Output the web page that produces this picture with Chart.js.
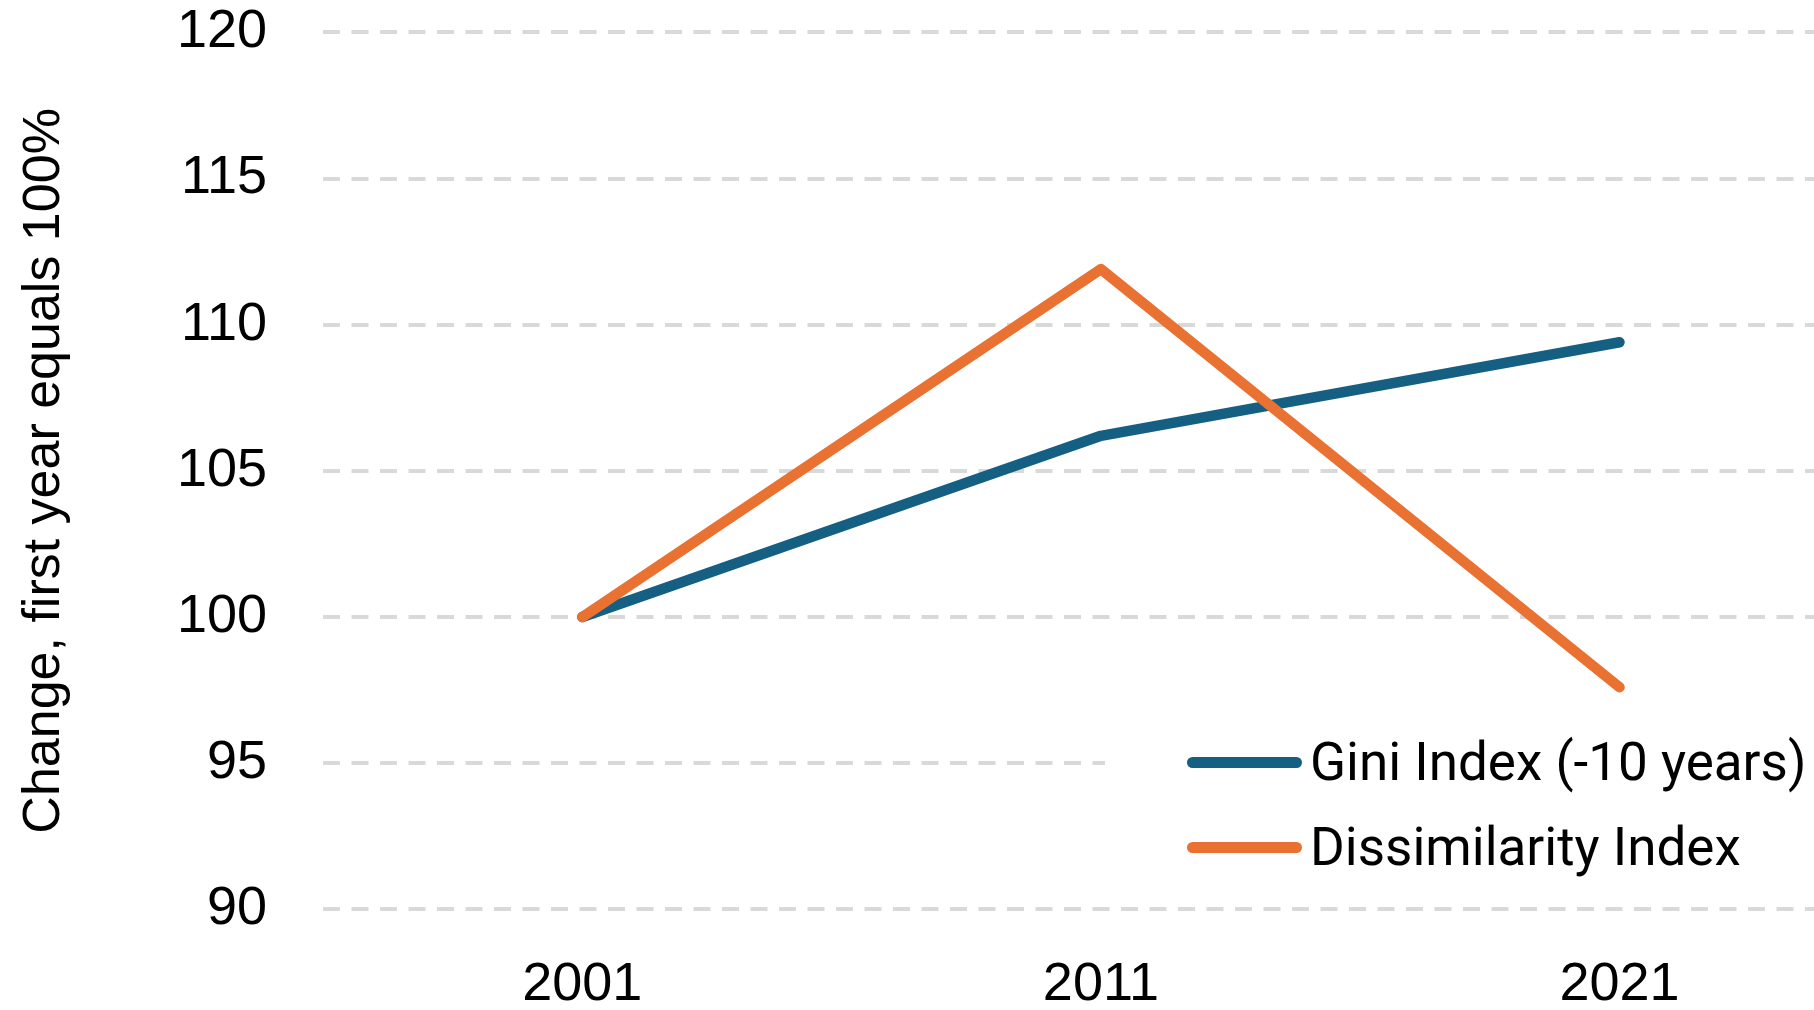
<!DOCTYPE html>
<html>
<head>
<meta charset="utf-8">
<title>Gini and Dissimilarity Index change</title>
<script src="https://cdn.jsdelivr.net/npm/chart.js@4.4.1/dist/chart.umd.min.js"></script>
<style>
  html, body { margin: 0; padding: 0; background: #fff; overflow: hidden; }
  #wrap { position: relative; width: 1814px; height: 1010px; }
  #legend {
    position: absolute; left: 1105px; top: 712px; width: 709px; height: 170px;
    background: #fff; font-family: Roboto, "Noto Sans", sans-serif; font-size: 53px; color: #000;
  }
  #legend .item { position: absolute; left: 82px; height: 60px; display: flex; align-items: center; white-space: nowrap; }
  #legend .swatch { width: 115px; height: 11px; border-radius: 6px; margin-right: 8px; }
</style>
</head>
<body>
<div id="wrap">
  <canvas id="indexChart" width="1814" height="1010"></canvas>
  <div id="legend"></div>
</div>
<script>
// Index values, first year = 100
const years = [2001, 2011, 2021];
const giniValues = [100, 106.2, 109.4];
const dissimilarityValues = [100, 111.9, 97.6];
const yTicks = [90, 95, 100, 105, 110, 115, 120];
const seriesNames = ['Gini Index (-10 years)', 'Dissimilarity Index'];
const seriesColors = ['#156082', '#E97132'];

const axisFont = { family: "'Liberation Sans', Arial, sans-serif", size: 54 };

function toPoints(values) {
    return years.map((yr, i) => ({ x: yr, y: values[i] }));
}

const ctx = document.getElementById('indexChart').getContext('2d');

const chart = new Chart(ctx, {
    type: 'line',
    data: {
        datasets: [
            {
                label: seriesNames[0],
                data: toPoints(giniValues),
                borderColor: seriesColors[0],
                backgroundColor: seriesColors[0],
                borderWidth: 10.5,
                borderCapStyle: 'round',
                borderJoinStyle: 'round',
                pointRadius: 0,
                tension: 0,
                order: 2
            },
            {
                // drawn on top of the Gini line
                label: seriesNames[1],
                data: toPoints(dissimilarityValues),
                borderColor: seriesColors[1],
                backgroundColor: seriesColors[1],
                borderWidth: 10.5,
                borderCapStyle: 'round',
                borderJoinStyle: 'round',
                pointRadius: 0,
                tension: 0,
                order: 1
            }
        ]
    },
    options: {
        responsive: false,
        animation: false,
        devicePixelRatio: 1,
        layout: { padding: 0 },
        plugins: {
            legend: { display: false },
            tooltip: { enabled: false }
        },
        scales: {
            x: {
                type: 'linear',
                min: 1996,
                max: 2024.75,
                afterBuildTicks: scale => { scale.ticks = years.map(v => ({ value: v })); },
                afterFit: scale => { scale.height = 100.6; },
                grid: { display: false, drawTicks: false },
                border: { display: false },
                ticks: {
                    font: axisFont,
                    color: '#000',
                    padding: 43,
                    maxRotation: 0,
                    callback: v => String(v)
                }
            },
            y: {
                min: 90,
                max: 120,
                afterBuildTicks: scale => { scale.ticks = yTicks.map(v => ({ value: v })); },
                afterFit: scale => {
                    scale.width = 323;
                    // only half a label above/below the plot, not the tick padding too
                    scale.paddingTop = 32.4;
                    scale.paddingBottom = 32.4;
                },
                grid: { color: '#d9d9d9', lineWidth: 4, drawTicks: false },
                border: { display: false, dash: [17, 11.5] },
                ticks: {
                    font: axisFont,
                    color: '#000',
                    padding: 56,
                    callback: v => String(v)
                },
                title: {
                    display: true,
                    text: 'Change, first year equals 100%',
                    color: '#000',
                    font: { family: "'Liberation Sans', Arial, sans-serif", size: 52 },
                    padding: { top: 13, bottom: 0 }
                }
            }
        }
    }
});

// Legend built from the datasets, sitting on a white box over the grid
const legendEl = document.getElementById('legend');
const rowTops = [20, 105];
chart.data.datasets.forEach((ds, i) => {
    const item = document.createElement('div');
    item.className = 'item';
    item.style.top = rowTops[i] + 'px';
    const sw = document.createElement('span');
    sw.className = 'swatch';
    sw.style.background = ds.borderColor;
    const txt = document.createElement('span');
    txt.textContent = ds.label;
    item.appendChild(sw);
    item.appendChild(txt);
    legendEl.appendChild(item);
});
</script>
</body>
</html>
